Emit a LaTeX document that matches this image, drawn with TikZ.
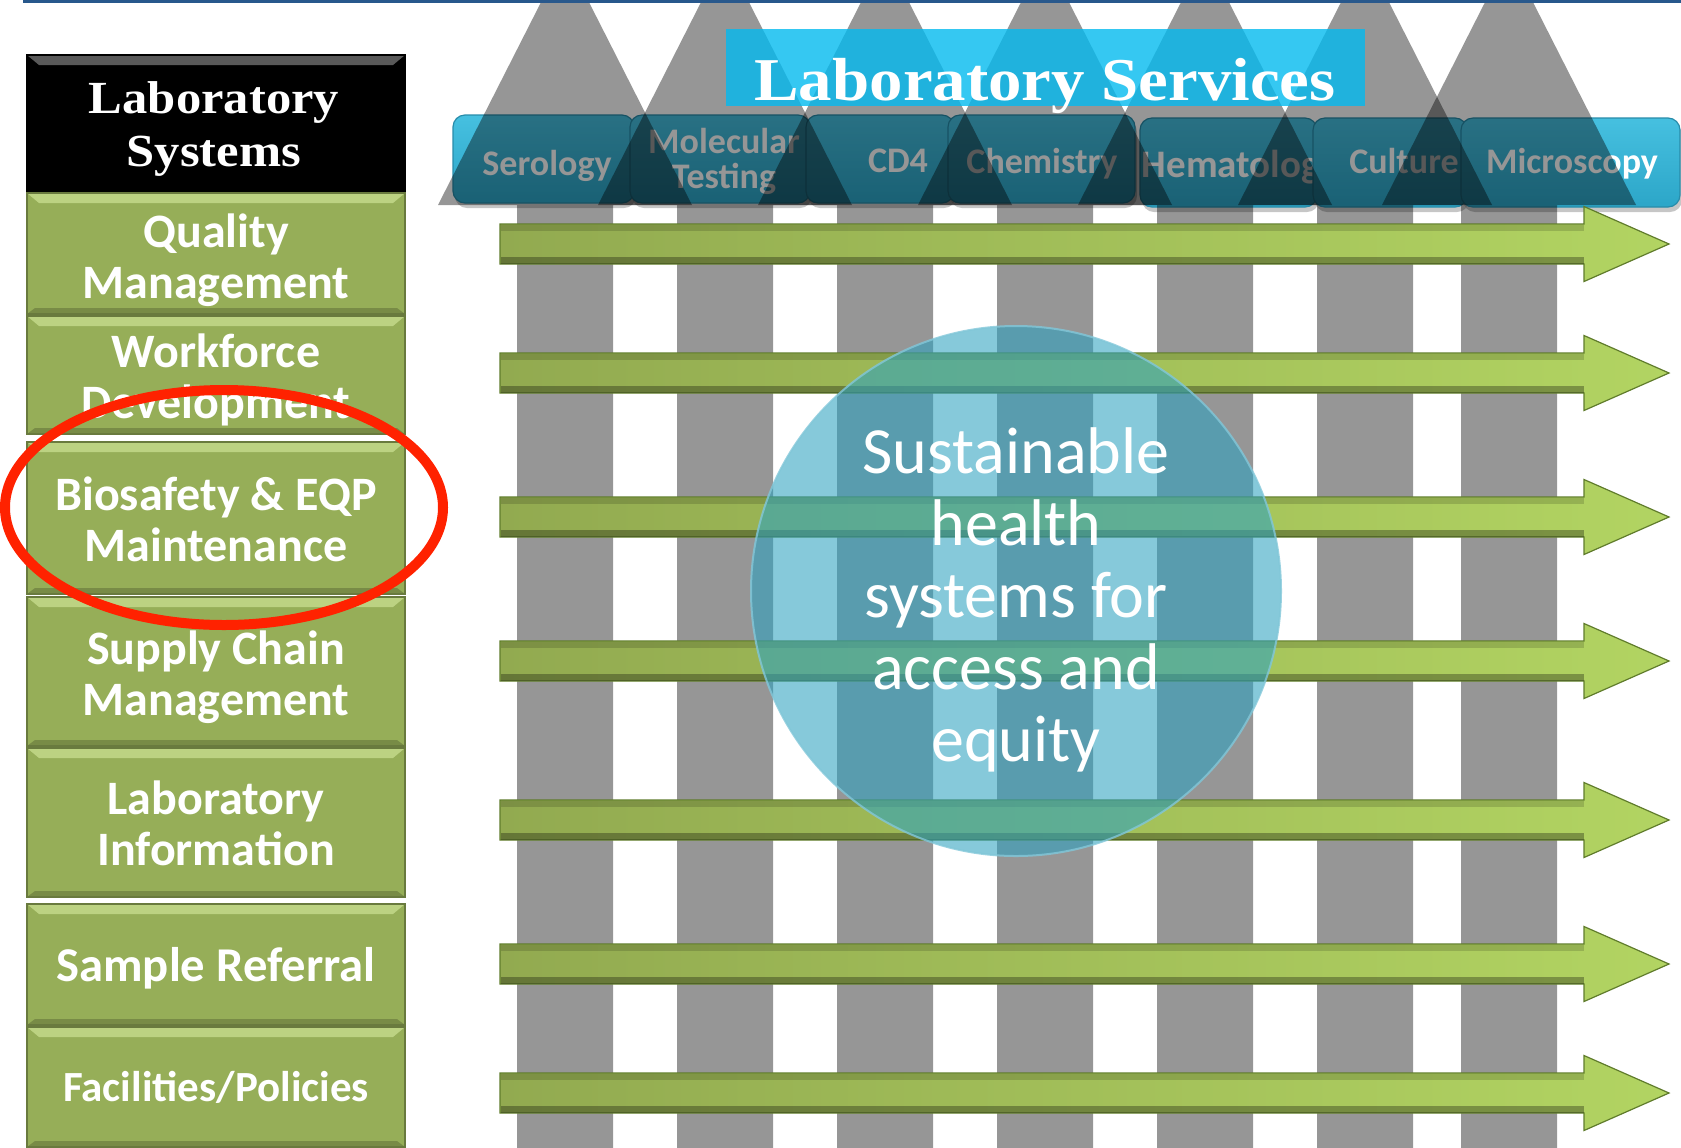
\documentclass[tikz,border=0pt]{standalone}
\usepackage{fontspec}
\setmainfont{Carlito}
\newfontfamily\headfont[FakeStretch=1.1]{Liberation Serif}
\usetikzlibrary{shadows}

\definecolor{topline}{RGB}{40,88,140}
\definecolor{sysgreen}{RGB}{150,174,88}
\definecolor{syslight}{RGB}{188,210,130}
\definecolor{tabtop}{RGB}{70,192,224}
\definecolor{tabbot}{RGB}{44,166,200}
\definecolor{tabedge}{RGB}{40,140,170}
\definecolor{svcblue}{RGB}{3,186,239}
\definecolor{gleft}{RGB}{146,170,80}
\definecolor{gright}{RGB}{178,212,98}
\definecolor{gedge}{RGB}{96,124,44}
\definecolor{hubblue}{RGB}{46,162,191}
\definecolor{ringred}{RGB}{255,34,0}

\begin{document}
\begin{tikzpicture}[x=0.5pt,y=-0.5pt,
  bevelbox/.style 2 args={fill=#1, draw=#1!70!black, line width=1pt,
    path picture={
      \fill[#2] (path picture bounding box.north west) -- (path picture bounding box.north east)
        -- ([xshift=-6pt,yshift=-5pt]path picture bounding box.north east)
        -- ([xshift=6pt,yshift=-5pt]path picture bounding box.north west) -- cycle;
      \fill[black,opacity=0.2] (path picture bounding box.south west) -- (path picture bounding box.south east)
        -- ([xshift=-4pt,yshift=3pt]path picture bounding box.south east)
        -- ([xshift=4pt,yshift=3pt]path picture bounding box.south west) -- cycle;
    }},
  systext/.style={text=white, font=\bfseries\fontsize{24}{25.5}\selectfont, align=center},
  headtext/.style={text=white, font=\headfont\bfseries\fontsize{23}{26.5}\selectfont, align=center},
  tab/.style={rounded corners=6pt, top color=tabtop, bottom color=tabbot, draw=tabedge, line width=0.6pt,
    drop shadow={shadow xshift=1pt, shadow yshift=-2.5pt, opacity=0.45}},
  tabtext/.style={text=white, font=\bfseries\fontsize{18}{17.5}\selectfont, align=center, inner sep=0pt},
  pillar/.style={fill=black, fill opacity=0.41},
  garrow/.style={left color=gleft, right color=gright, draw=gedge, line width=0.6pt},
  hub/.style={fill=hubblue, fill opacity=0.58, draw=hubblue!60!white, line width=1pt, draw opacity=0.8},
  hubtext/.style={text=white, font=\fontsize{33}{36}\selectfont, align=center},
  ring/.style={draw=ringred, line width=5pt}]

  \useasboundingbox (0,0) rectangle (1681,1147);
  \begin{scope}
  \clip (0,0) rectangle (1681,1147);

  % service tabs
  \foreach \l/\r/\t/\b/\nm/\tx/\ty/\anc/\fs/\lbl in {
    453/634/115/203/ser/547/175/base/18/Serology,
    630/810/115/203/mol/724/161.7/center/18/{Molecular\\Testing},
    806/954/115/203/cdf/898/172/base/18/CD4,
    948/1135/115/203/che/1042/173/base/18/Chemistry,
    1140/1317/118/207/hem/1240/177/base/19.5/Hematology,
    1313/1467/118/207/cul/1404/173/base/18/Culture,
    1461/1680/118/207/mic/1572/173/base/18/Microscopy} {
    \path[tab] (\l,\t) rectangle (\r,\b);
    \node[tabtext, anchor/.expanded=\anc, font=\bfseries\fontsize{\fs}{17.5}\selectfont] (\nm) at (\tx,\ty) {\lbl};
  }

  % grey pillars
  \foreach \cx in {565,725,885,1045,1205,1365,1509}
    \fill[pillar] (\cx,-45) -- (\cx+127,205) -- (\cx+48,205) -- (\cx+48,1150)
      -- (\cx-48,1150) -- (\cx-48,205) -- (\cx-127,205) -- cycle;

  % green arrows
  \foreach \y in {244,373,517,661,820,964,1093} {
    \draw[garrow] (500,\y-20) -- (1584,\y-20) -- (1584,\y-37.5) -- (1669,\y)
      -- (1584,\y+37.5) -- (1584,\y+20) -- (500,\y+20) -- cycle;
    \fill[black, opacity=0.15] (501,\y-19.5) rectangle (1584,\y-13);
    \fill[black, opacity=0.3] (501,\y+13) rectangle (1584,\y+19.5);
  }

  % services title
  \fill[svcblue, opacity=0.8] (726,29) rectangle (1365,106);
  \node[anchor=base, text=white, font=\headfont\bfseries\fontsize{30.4}{36}\selectfont] (svc) at (1045,100) {Laboratory Services};

  % hub
  \path[hub] (1016,591) circle [radius=265];
  \node[hubtext] (hub) at (1016,599.5) {Sustainable\\health\\systems for\\access and\\equity};

  \fill[topline] (23,0) rectangle (1681,2.5);

  % systems column
  \path[bevelbox={black}{black!65!white}] (27,55) rectangle (405,191);
  \foreach \t/\b in {193/314, 316/434, 442/594, 597/746, 748/897, 904/1025, 1027/1147}
    \path[bevelbox={sysgreen}{syslight}] (27,\t) rectangle (405,\b);

  \node[headtext] (sys) at (214,128.7) {Laboratory\\Systems};
  \node[systext] (qm) at (216,260.5) {Quality\\Management};
  \node[systext] (wd) at (216,380) {Workforce\\Development};
  \node[systext] (bs) at (216,519) {Biosafety \& EQP\\Maintenance};
  \node[systext] (sc) at (216,677) {Supply Chain\\Management};
  \node[systext] (li) at (216,823) {Laboratory\\Information};
  \node[systext, anchor=base, font=\bfseries\fontsize{24.3}{26}\selectfont] (sr) at (216,981) {Sample Referral};
  \node[systext, anchor=base, font=\bfseries\fontsize{21.5}{24}\selectfont] (fp) at (216,1101) {Facilities/Policies};

  \draw[ring] (224,507.5) ellipse [x radius=219, y radius=117.5];
  \end{scope}
\end{tikzpicture}
\end{document}
